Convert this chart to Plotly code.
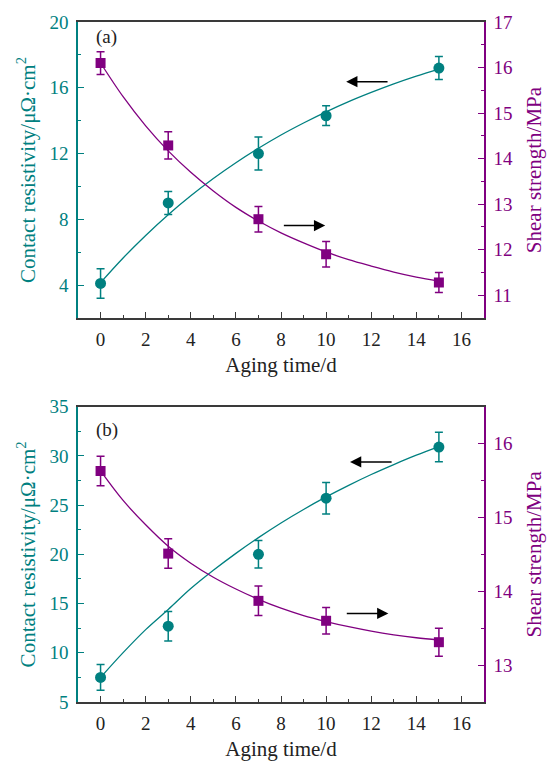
import plotly.graph_objects as go

# ---------------- data ----------------
days = [0, 3, 7, 10, 15]

# panel (a)
a_res = [4.1, 9.0, 12.0, 14.3, 17.2]
a_res_err = [0.9, 0.7, 1.0, 0.6, 0.7]
a_shear = [16.1, 14.29, 12.67, 11.9, 11.28]
a_shear_err = [0.25, 0.3, 0.28, 0.28, 0.22]

# panel (b)
b_res = [7.5, 12.7, 20.0, 25.7, 30.9]
b_res_err = [1.3, 1.5, 1.4, 1.6, 1.5]
b_shear = [15.63, 14.51, 13.87, 13.6, 13.31]
b_shear_err = [0.2, 0.2, 0.2, 0.18, 0.19]

# fitted curves
fit_x = list(range(0, 16))
a_res_fit = [4.15, 5.65, 7.02, 8.28, 9.43, 10.48, 11.44, 12.32, 13.13, 13.86,
             14.54, 15.16, 15.72, 16.24, 16.71, 17.14]
a_shear_fit = [16.10, 15.36, 14.72, 14.17, 13.70, 13.29, 12.93, 12.63, 12.37, 12.15,
               11.95, 11.78, 11.64, 11.51, 11.40, 11.31]
b_res_fit = [7.49, 10.01, 12.35, 14.40, 16.52, 18.38, 20.10, 21.70, 23.19, 24.56,
             25.83, 27.01, 28.11, 29.12, 30.07, 30.94]
b_shear_fit = [15.63, 15.23, 14.90, 14.61, 14.38, 14.19, 14.03, 13.89, 13.77, 13.67,
               13.59, 13.52, 13.46, 13.41, 13.37, 13.34]

x_ticks = [0, 2, 4, 6, 8, 10, 12, 14, 16]

TEAL = "#008080"
PURPLE = "#800080"
AXGRAY = "#3a3a3a"
FONT = "Liberation Serif"

fig = go.Figure()


def add_panel(xa, yl, yr, res, res_err, shear, shear_err, res_fit, shear_fit):
    fig.add_trace(go.Scatter(x=fit_x, y=res_fit, mode="lines", line=dict(color=TEAL, width=1.3, shape="spline"),
                             xaxis=xa, yaxis=yl, showlegend=False, hoverinfo="skip"))
    fig.add_trace(go.Scatter(x=days, y=res, mode="markers",
                             marker=dict(color=TEAL, size=11, symbol="circle"),
                             error_y=dict(type="data", array=res_err, color=TEAL, thickness=1.5, width=4),
                             xaxis=xa, yaxis=yl, showlegend=False))
    fig.add_trace(go.Scatter(x=fit_x, y=shear_fit, mode="lines", line=dict(color=PURPLE, width=1.3, shape="spline"),
                             xaxis=xa, yaxis=yr, showlegend=False, hoverinfo="skip"))
    fig.add_trace(go.Scatter(x=days, y=shear, mode="markers",
                             marker=dict(color=PURPLE, size=10, symbol="square"),
                             error_y=dict(type="data", array=shear_err, color=PURPLE, thickness=1.5, width=4),
                             xaxis=xa, yaxis=yr, showlegend=False))


add_panel("x", "y", "y2", a_res, a_res_err, a_shear, a_shear_err, a_res_fit, a_shear_fit)
add_panel("x2", "y3", "y4", b_res, b_res_err, b_shear, b_shear_err, b_res_fit, b_shear_fit)

TICK_SIZE = 19
TITLE_SIZE = 21
tickfont_x = dict(family=FONT, size=TICK_SIZE, color="#222222")
titlefont_x = dict(family=FONT, size=TITLE_SIZE, color="#222222")


def xaxis_cfg(domain_anchor):
    return dict(range=[-1, 17], tickvals=x_ticks, ticks="inside", ticklen=6, tickwidth=1.3,
                tickcolor=AXGRAY, showline=True, linecolor=AXGRAY, linewidth=1.5, mirror=True,
                showgrid=False, zeroline=False, tickfont=tickfont_x,
                minor=dict(dtick=1, tick0=0, ticks="inside", ticklen=3.5, tickwidth=1.2, tickcolor=AXGRAY),
                title=dict(text="Aging time/d", font=titlefont_x, standoff=9),
                anchor=domain_anchor, domain=[0, 1], ticklabelstandoff=3)


def yleft_cfg(rng, dtick, minor, domain):
    return dict(range=rng, dtick=dtick, tick0=0, ticks="inside", ticklen=6, tickwidth=1.3,
                tickcolor=TEAL, showline=True, linecolor=TEAL, linewidth=1.5,
                showgrid=False, zeroline=False, tickfont=dict(family=FONT, size=TICK_SIZE, color=TEAL),
                minor=dict(dtick=minor, tick0=0, ticks="inside", ticklen=3.5, tickwidth=1.2, tickcolor=TEAL),
                title=dict(text="Contact resistivity/μΩ·cm<sup>2</sup>",
                           font=dict(family=FONT, size=TITLE_SIZE, color=TEAL), standoff=8),
                domain=domain, ticklabelstandoff=4)


def yright_cfg(rng, overlay, anchor):
    return dict(range=rng, dtick=1, tick0=0, ticks="inside", ticklen=6, tickwidth=1.3,
                tickcolor=PURPLE, showline=True, linecolor=PURPLE, linewidth=1.5,
                showgrid=False, zeroline=False, tickfont=dict(family=FONT, size=TICK_SIZE, color=PURPLE),
                minor=dict(dtick=0.5, tick0=0, ticks="inside", ticklen=3.5, tickwidth=1.2, tickcolor=PURPLE),
                title=dict(text="Shear strength/MPa", font=dict(family=FONT, size=TITLE_SIZE, color=PURPLE),
                           standoff=14),
                overlaying=overlay, side="right", anchor=anchor, ticklabelstandoff=4)


top_dom = [0.5647, 1.0]
bot_dom = [0.0, 0.4343]

fig.update_layout(
    width=554, height=769,
    margin=dict(l=78, r=68, t=17, b=56),
    paper_bgcolor="white", plot_bgcolor="white",
    showlegend=False,
    xaxis=xaxis_cfg("y"),
    xaxis2=xaxis_cfg("y3"),
    yaxis=yleft_cfg([1.999, 20.001], 4, 2, top_dom),
    yaxis2=yright_cfg([10.5, 17.001], "y", "x"),
    yaxis3=yleft_cfg([4.999, 35.001], 5, 2.5, bot_dom),
    yaxis4=yright_cfg([12.5, 16.5], "y3", "x2"),
)

# panel labels
fig.add_annotation(text="(a)", xref="x domain", yref="y domain", x=0.04, y=0.95,
                   xanchor="left", yanchor="middle", showarrow=False,
                   font=dict(family=FONT, size=19, color="#222222"))
fig.add_annotation(text="(b)", xref="x2 domain", yref="y3 domain", x=0.04, y=0.92,
                   xanchor="left", yanchor="middle", showarrow=False,
                   font=dict(family=FONT, size=19, color="#222222"))

# arrows indicating which axis each curve belongs to
arrow_style = dict(text="", showarrow=True, arrowhead=2, arrowsize=1.5, arrowwidth=1.5,
                   arrowcolor="black", standoff=0, startstandoff=0)
fig.add_annotation(x=10.89, y=16.37, ax=12.79, ay=16.37, xref="x", yref="y", axref="x", ayref="y", **arrow_style)
fig.add_annotation(x=9.96, y=7.62, ax=8.06, ay=7.62, xref="x", yref="y", axref="x", ayref="y", **arrow_style)
fig.add_annotation(x=11.06, y=29.39, ax=12.97, ay=29.39, xref="x2", yref="y3", axref="x2", ayref="y3", **arrow_style)
fig.add_annotation(x=12.76, y=13.99, ax=10.85, ay=13.99, xref="x2", yref="y3", axref="x2", ayref="y3", **arrow_style)

fig.write_html("out.html")
